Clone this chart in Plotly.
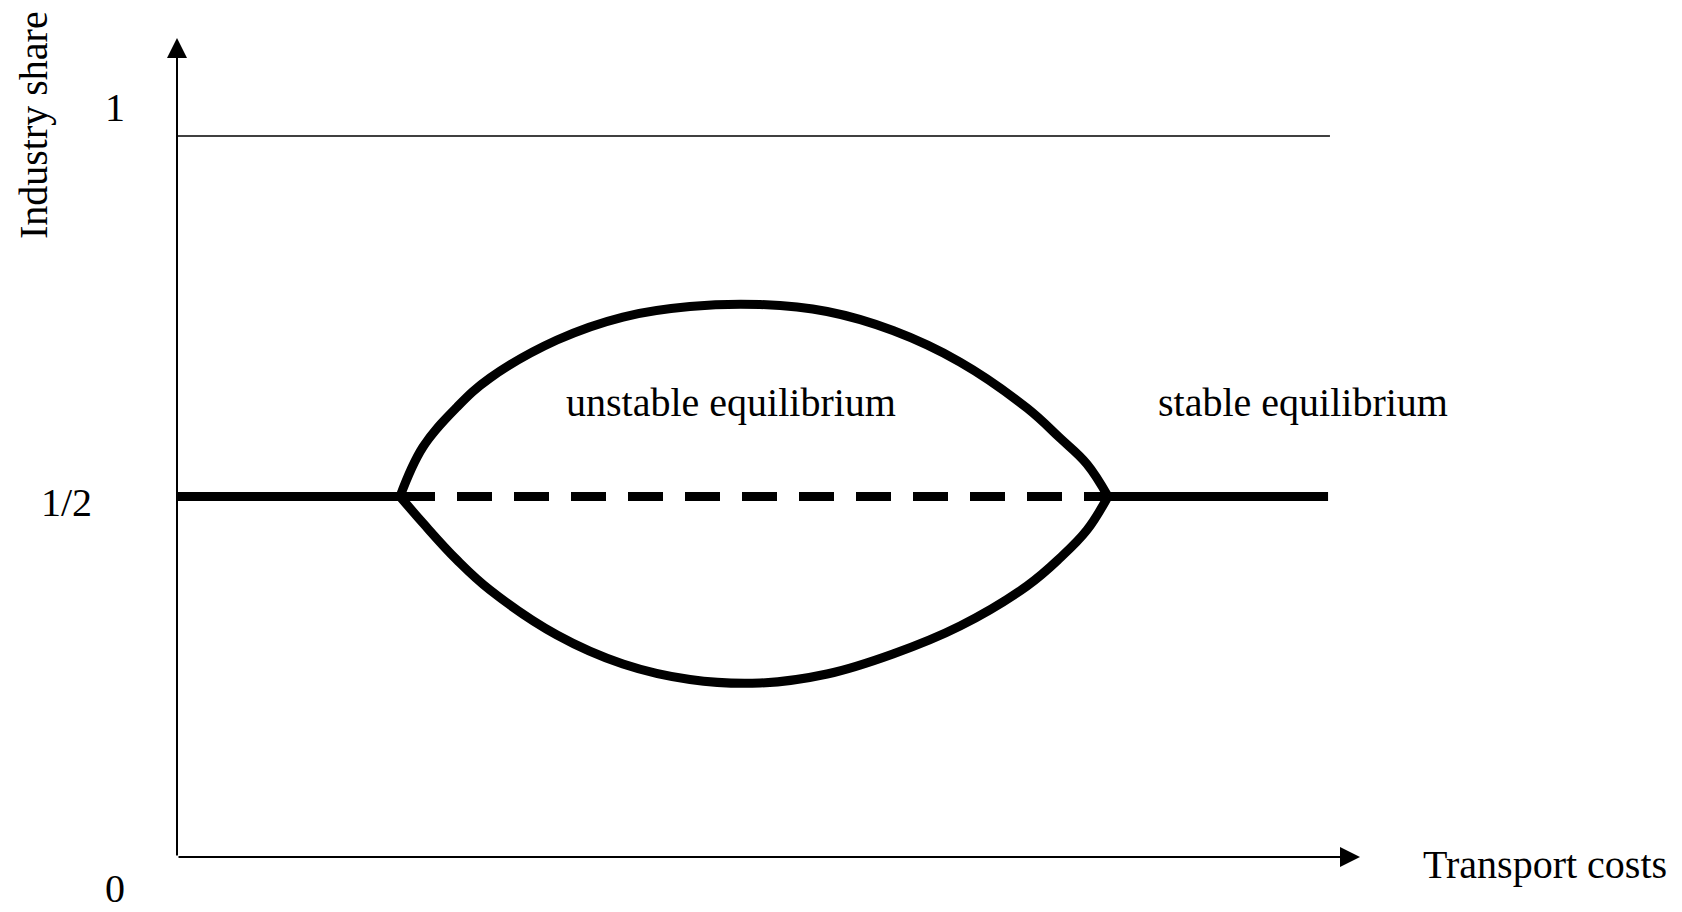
import plotly.graph_objects as go

# transport costs scaled 0..1 (1 = arrow tip), industry share 0..1
branch_x = [0.1885, 0.2079, 0.2367, 0.2646, 0.3212, 0.3770, 0.4336, 0.4928,
            0.5495, 0.6052, 0.6619, 0.7185, 0.7464, 0.7692, 0.7870]
upper_y = [0.500, 0.5687, 0.6241, 0.6644, 0.7171, 0.7490, 0.7635, 0.7663,
           0.7566, 0.7302, 0.6865, 0.6227, 0.5811, 0.5450, 0.500]
lower_y = [0.500, 0.4632, 0.4119, 0.3703, 0.3079, 0.2677, 0.2462, 0.2413,
           0.2538, 0.2816, 0.3204, 0.3759, 0.4147, 0.4535, 0.500]

stable_left_x = [0.0, 0.1885]
stable_right_x = [0.7870, 0.973]
unstable_mid_x = [0.1885, 0.7870]
half_share = 0.5
full_share = 1.0
full_line_x = [0.0, 0.9746]

FONT = "Liberation Serif"
THICK = 9
Y_TOP = 1.136

fig = go.Figure()

# thin line at share = 1
fig.add_trace(go.Scatter(x=full_line_x, y=[full_share] * 2, mode="lines",
                         line=dict(color="black", width=1.5), hoverinfo="skip"))

# symmetric equilibrium: stable outside, unstable (dashed) inside
fig.add_trace(go.Scatter(x=stable_left_x, y=[half_share] * 2, mode="lines",
                         line=dict(color="black", width=THICK), hoverinfo="skip"))
fig.add_trace(go.Scatter(x=stable_right_x, y=[half_share] * 2, mode="lines",
                         line=dict(color="black", width=THICK), hoverinfo="skip"))
fig.add_trace(go.Scatter(x=unstable_mid_x, y=[half_share] * 2, mode="lines",
                         line=dict(color="black", width=THICK, dash="35px,22px"),
                         hoverinfo="skip"))

# asymmetric branches
for ys in (upper_y, lower_y):
    fig.add_trace(go.Scatter(x=branch_x, y=ys, mode="lines",
                             line=dict(color="black", width=THICK, shape="spline",
                                       smoothing=1.1),
                             hoverinfo="skip"))

# axes with arrow heads
for tip, tail in (((0, Y_TOP), (0, 0)), ((1.0, 0), (0, 0))):
    fig.add_annotation(x=tip[0], y=tip[1], ax=tail[0], ay=tail[1],
                       xref="x", yref="y", axref="x", ayref="y",
                       showarrow=True, arrowhead=2, arrowsize=2,
                       arrowwidth=2, arrowcolor="black", standoff=0, text="")

labels = [
    ("1", -0.0524, 1.039, 0),
    ("1/2", -0.0938, 0.4924, 0),
    ("0", -0.0524, -0.044, 0),
    ("Industry share", -0.1217, 1.0153, -90),
    ("Transport costs", 1.1564, -0.011, 0),
    ("unstable equilibrium", 0.4683, 0.631, 0),
    ("stable equilibrium", 0.9518, 0.631, 0),
]
for txt, lx, ly, ang in labels:
    # paper coordinates so labels outside the axis ranges stay visible
    fig.add_annotation(x=lx, y=ly / Y_TOP, xref="paper", yref="paper", text=txt,
                       showarrow=False, textangle=ang,
                       font=dict(family=FONT, size=40, color="black"),
                       xanchor="center", yanchor="middle")

fig.update_layout(
    width=1682, height=912,
    margin=dict(l=177, r=322, t=38, b=55),
    plot_bgcolor="white", paper_bgcolor="white",
    showlegend=False,
    xaxis=dict(range=[0, 1], visible=False, fixedrange=True),
    yaxis=dict(range=[0, Y_TOP], visible=False, fixedrange=True),
)

fig.write_html("out.html", config={"displayModeBar": False},
               post_script="document.body.style.margin='0';document.body.style.overflow='hidden';")
